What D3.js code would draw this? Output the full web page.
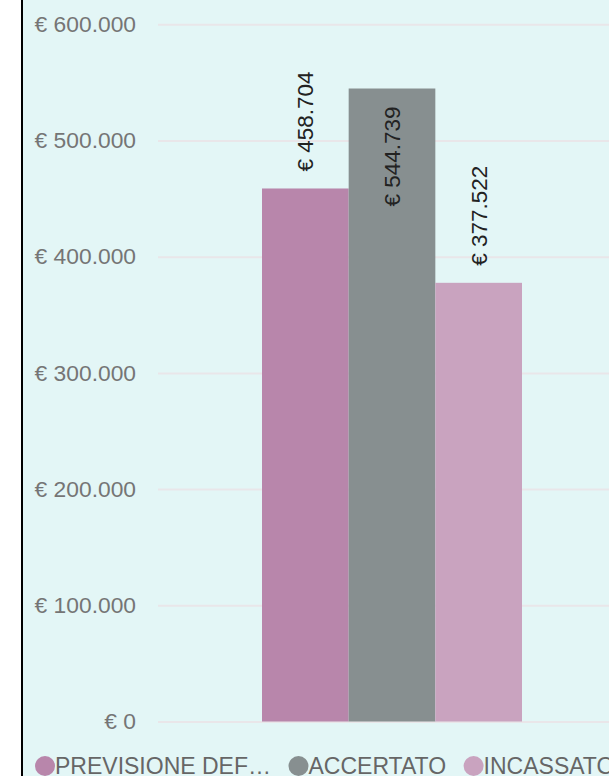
<!DOCTYPE html>
<html>
<head>
<meta charset="utf-8">
<script src="https://cdn.jsdelivr.net/npm/d3@7/dist/d3.min.js"></script>
<style>
  html, body { margin: 0; padding: 0; background: #ffffff; }
  svg { display: block; font-family: "Liberation Sans", Arial, Helvetica, sans-serif; }
</style>
</head>
<body>
<svg id="chart" width="609" height="776"></svg>
<script>
// Entrate: previsione definitiva, accertato, incassato
const categories = ["Entrate"];
const seriesNames = ["PREVISIONE DEF…", "ACCERTATO", "INCASSATO"];
const seriesValues = [458704, 544739, 377522];
const seriesColors = ["#b886ab", "#878f90", "#c9a3bf"];
const tickValues = [0, 100000, 200000, 300000, 400000, 500000, 600000];

const W = 609, H = 776;
const panelLeft = 22;
const plot = { left: 158, right: 626, top: 24.3, bottom: 721.5 };

const itLocale = d3.formatLocale({
  decimal: ",", thousands: ".", grouping: [3], currency: ["€ ", ""]
});
const euro = itLocale.format("$,.0f");

const svg = d3.select("#chart");

// panel background and its left border
svg.append("rect")
  .attr("x", panelLeft).attr("y", -10)
  .attr("width", W - panelLeft + 10).attr("height", H + 20)
  .attr("fill", "#e3f6f6");
svg.append("line")
  .attr("x1", panelLeft).attr("x2", panelLeft)
  .attr("y1", 0).attr("y2", H)
  .attr("stroke", "#000").attr("stroke-width", 2);

const y = d3.scaleLinear().domain([0, 600000]).range([plot.bottom, plot.top]);
const x0 = d3.scaleBand().domain(categories).range([plot.left, plot.right])
  .paddingInner(0).paddingOuter(0.4);
const x1 = d3.scaleBand().domain(seriesNames).range([0, x0.bandwidth()]).padding(0);

// gridlines + tick labels
const yAxis = d3.axisLeft(y).tickValues(tickValues)
  .tickFormat(euro).tickSize(-(W - plot.left + 10)).tickPadding(22);
const gAxis = svg.append("g")
  .attr("transform", `translate(${plot.left},0)`)
  .call(yAxis);
gAxis.select(".domain").remove();
gAxis.selectAll(".tick line").attr("stroke", "#e9e6e9").attr("stroke-width", 2);
gAxis.selectAll(".tick text")
  .attr("fill", "#757575").attr("font-size", 22.8);

// bars
const data = seriesNames.map((s, i) => ({ key: s, value: seriesValues[i], color: seriesColors[i] }));
const g = svg.append("g").attr("transform", `translate(${x0(categories[0])},0)`);
g.selectAll("rect.bar").data(data).join("rect")
  .attr("class", "bar")
  .attr("x", d => x1(d.key))
  .attr("width", x1.bandwidth())
  .attr("y", d => y(d.value))
  .attr("height", d => y(0) - y(d.value))
  .attr("fill", d => d.color);

// rotated value labels: above the bar, or inside its top when there is no room
const labels = g.selectAll("text.val").data(data).join("text")
  .attr("class", "val")
  .attr("font-size", 22.5)
  .attr("fill", "#222")
  .attr("dy", "0.36em")
  .text(d => euro(d.value));
labels.each(function (d) {
  const len = this.getComputedTextLength();
  const top = y(d.value);
  const cx = x1(d.key) + x1.bandwidth() / 2;
  const fitsAbove = top - 17 - len > 0;
  const ly = fitsAbove ? top - 17 : top + 18;
  d3.select(this)
    .attr("text-anchor", fitsAbove ? "start" : "end")
    .attr("transform", `translate(${cx},${ly}) rotate(-90)`);
});

// legend, laid out left to right along the bottom edge
const legend = svg.append("g").attr("transform", "translate(35,766)");
let lx = 0;
data.forEach(d => {
  const item = legend.append("g").attr("transform", `translate(${lx},0)`);
  item.append("circle").attr("cx", 10).attr("cy", 0).attr("r", 10).attr("fill", d.color);
  const t = item.append("text").attr("x", 20).attr("y", 0).attr("dy", "0.36em")
    .attr("font-size", 23).attr("fill", "#666").text(d.key);
  lx += 20 + t.node().getComputedTextLength() + 17.5;
});
</script>
</body>
</html>
